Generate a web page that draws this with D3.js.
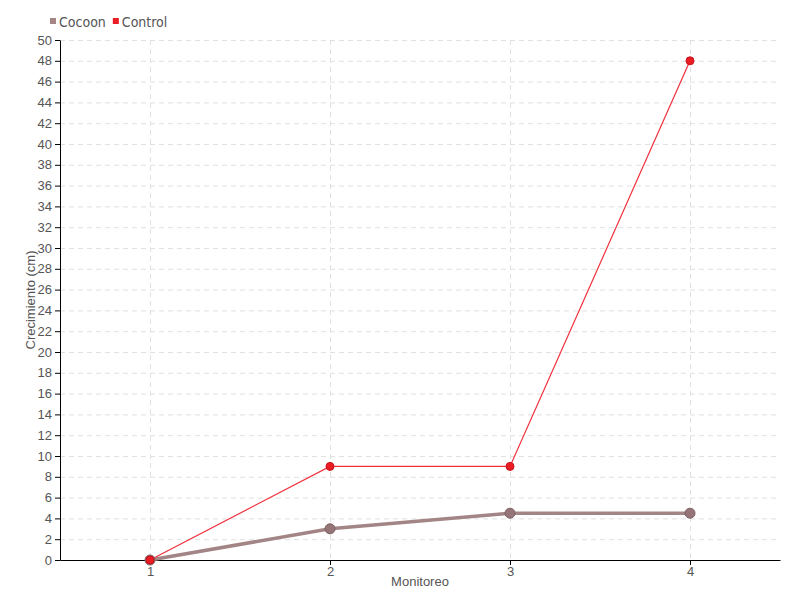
<!DOCTYPE html>
<html>
<head>
<meta charset="utf-8">
<script src="https://cdn.jsdelivr.net/npm/d3@7"></script>
<style>
  body { margin: 0; background: #fff; }
  svg { font-family: "DejaVu Sans Condensed", "DejaVu Sans", sans-serif; font-stretch: condensed; }
  .grid line { stroke: #e0e0e0; stroke-dasharray: 5 4; }
  .grid .domain { display: none; }
  .axis text { fill: #555; font-size: 13px; }
  .axis line, .axis path { stroke: #000; }
</style>
</head>
<body>
<svg width="800" height="600"></svg>
<script>
// Datos
const monitoreos = ["1", "2", "3", "4"]
const cocoon = [0, 3, 4.5, 4.5]
const control = [0, 9, 9, 48]
const yTicks = d3.range(0, 52, 2)

const marginTop = 40
const marginLeft = 60
const chartWidth = 720
const chartHeight = 520

const svg = d3.select("svg")
const g = svg.append("g").attr("transform", `translate(${marginLeft}, ${marginTop})`)

// Escalas
const xScale = d3.scalePoint(monitoreos, [0, chartWidth]).padding(0.5)
const yScale = d3.scaleLinear([0, 50], [chartHeight, 0])

// Rejilla
g.append("g").attr("class", "grid")
  .call(d3.axisLeft(yScale).tickValues(yTicks).tickSize(-chartWidth).tickFormat(""))
g.append("g").attr("class", "grid")
  .call(d3.axisBottom(xScale).tickSize(chartHeight).tickFormat(""))

// Ejes
const xAxis = g.append("g").attr("class", "axis")
  .attr("transform", `translate(0, ${chartHeight})`)
  .call(d3.axisBottom(xScale).tickSizeOuter(0).tickSizeInner(5).tickPadding(2))
xAxis.append("text")
  .text("Monitoreo")
  .attr("x", chartWidth / 2)
  .attr("y", 26)
  .attr("text-anchor", "middle")
  .attr("fill", "#555")
  .attr("font-size", "14px")

const yAxis = g.append("g").attr("class", "axis")
  .call(d3.axisLeft(yScale).tickValues(yTicks).tickSizeOuter(0).tickSizeInner(5).tickPadding(3))
yAxis.append("text")
  .text("Crecimiento (cm)")
  .attr("transform", `translate(-25, ${chartHeight / 2}) rotate(-90)`)
  .attr("text-anchor", "middle")
  .attr("fill", "#555")
  .attr("font-size", "14px")

// Series
const series = [
  { name: "Cocoon", values: cocoon, color: "#a38586", width: 3.5, r: 5, fill: "#957577", stroke: "#7d6062" },
  { name: "Control", values: control, color: "#f0303c", width: 1.2, r: 4, fill: "#ec1c24", stroke: "#c8101a" }
]

const line = d3.line()
  .x((d, i) => xScale(monitoreos[i]))
  .y(d => yScale(d))

series.forEach(s => {
  g.append("path")
    .datum(s.values)
    .attr("fill", "none")
    .attr("stroke", s.color)
    .attr("stroke-width", s.width)
    .attr("d", line)
})

series.forEach(s => {
  g.selectAll(null)
    .data(s.values)
    .join("circle")
      .attr("cx", (d, i) => xScale(monitoreos[i]))
      .attr("cy", d => yScale(d))
      .attr("r", s.r)
      .attr("fill", s.fill)
      .attr("stroke", s.stroke)
      .attr("stroke-width", 1)
})

// Leyenda
const legend = svg.append("g").attr("transform", "translate(50, 22)")
let lx = 0
series.forEach(s => {
  const item = legend.append("g").attr("transform", `translate(${lx}, 0)`)
  item.append("rect").attr("x", 0).attr("y", -4).attr("width", 6).attr("height", 6)
    .attr("fill", s.name === "Cocoon" ? "#a38586" : "#ec1c24")
  const t = item.append("text").attr("x", 9).attr("y", 5)
    .attr("fill", "#555").attr("font-size", "14px").text(s.name)
  lx += 9 + t.node().getComputedTextLength() + 7
})
</script>
</body>
</html>
